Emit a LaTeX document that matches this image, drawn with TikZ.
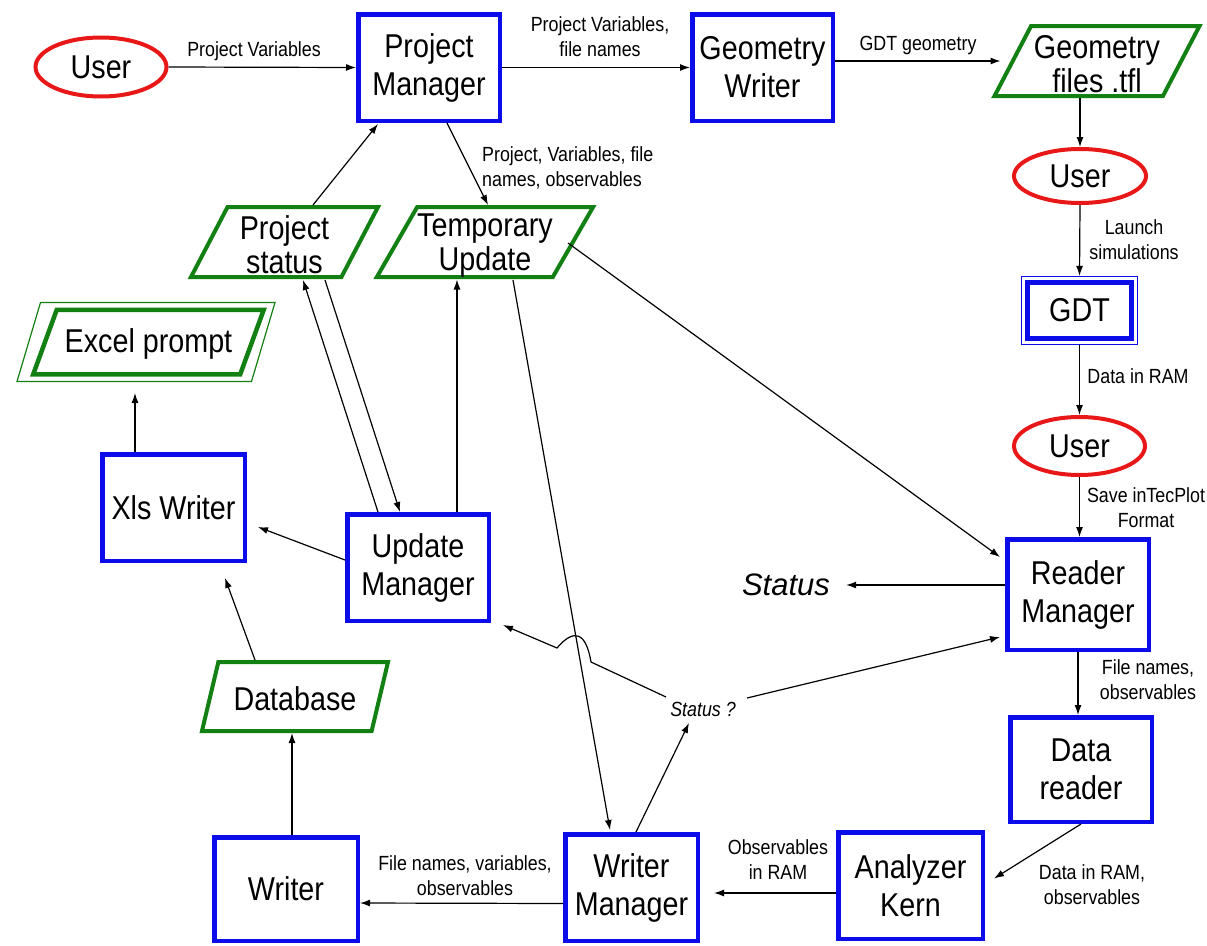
\documentclass[tikz,border=0pt]{standalone}
\usepackage{fontspec}
\setmainfont{Liberation Sans}
\newfontfamily\tallsans[FakeStretch=0.87]{Liberation Sans}
\usetikzlibrary{shapes.geometric,arrows.meta,calc}
\definecolor{procblue}{RGB}{12,12,235}
\definecolor{userred}{RGB}{232,24,24}
\definecolor{filegreen}{RGB}{18,128,18}
\newcommand{\boxfont}{\tallsans\fontsize{33}{38}\selectfont}
\newcommand{\storefont}{\tallsans\fontsize{33}{34}\selectfont}
\newcommand{\lblfont}{\tallsans\fontsize{20.5}{25}\selectfont}
\tikzset{
  proc/.style={draw=procblue, line width=4.5pt, inner sep=0pt, align=center, font=\boxfont},
  user/.style={ellipse, draw=userred, line width=4pt, inner sep=0pt, font=\boxfont},
  store/.style={trapezium, trapezium left angle=60, trapezium right angle=120,
    trapezium stretches body, draw=filegreen, line width=4pt, inner sep=0pt,
    align=center, text height=63pt, font=\storefont},
  lbl/.style={inner sep=0pt, align=center, font=\lblfont},
  flow/.style={-{Latex[length=10pt,width=7pt]}, line width=1.2pt}
}
\begin{document}
\begin{tikzpicture}[x=1pt,y=-1pt]
  \fill[white] (0,0) rectangle (1207,945);
  \useasboundingbox (0,0) rectangle (1207,945);

  \node[user, minimum width=131pt, minimum height=59pt] (user1) at (101,67) {User};
  \node[proc, minimum width=141.5pt, minimum height=106.5pt] (pm) at (429,67.5) {Project\\Manager};
  \node[proc, minimum width=140.5pt, minimum height=106.5pt] (gw) at (762.5,67.5) {Geometry\\Writer};
  \node[store, minimum width=205pt, minimum height=70pt] (geof) at (1097,61) {Geometry\\files .tfl};
  \node[user, minimum width=132pt, minimum height=54pt] (user2) at (1080,176) {User};
  \node[draw=procblue, line width=1.2pt, minimum width=116pt, minimum height=68pt] (gdtframe) at (1079.5,310.5) {};
  \node[proc, minimum width=104pt, minimum height=56pt] (gdt) at (1079.5,310.5) {GDT};
  \node[user, minimum width=131pt, minimum height=58pt] (user3) at (1079.5,446) {User};
  \node[proc, minimum width=141.5pt, minimum height=110.5pt] (rm) at (1078,594.5) {Reader\\Manager};
  \node[proc, minimum width=141.5pt, minimum height=104.5pt] (dr) at (1081,769.5) {Data\\reader};
  \node[proc, minimum width=144.5pt, minimum height=106.5pt] (ak) at (910.5,885.5) {Analyzer\\Kern};
  \node[proc, minimum width=132.5pt, minimum height=106.5pt] (wm) at (631.5,887.5) {Writer\\Manager};
  \node[proc, minimum width=143.5pt, minimum height=103.5pt] (writer) at (286,889) {Writer};
  \node[store, text height=28pt, minimum width=186pt, minimum height=69pt] (db) at (295,696.5) {Database};
  \node[proc, minimum width=142.5pt, minimum height=106.5pt] (xls) at (173.5,507.5) {Xls Writer};
  \node[store, text height=28pt, line width=1.2pt, trapezium left angle=56, trapezium right angle=124,
    minimum width=258pt, minimum height=79pt] (excelframe) at (146,342) {\phantom{Excel prompt}};
  \node[store, text height=28pt, line width=4.5pt, trapezium left angle=56, trapezium right angle=124,
    minimum width=230.5pt, minimum height=64.5pt] (excel) at (148.5,342) {Excel prompt};
  \node[proc, minimum width=141.5pt, minimum height=106.5pt] (umgr) at (418,567.5) {Update\\Manager};
  \node[store, minimum width=187pt, minimum height=70pt] (pstat) at (284.5,242) {Project\\status};
  \node[store, minimum width=210pt, minimum height=70pt] (tmp) at (485,242) {Temporary\\Update};
  \node[inner sep=0pt, font=\fontsize{31}{36}\selectfont\itshape] (status) at (786,585) {Status};
  \node[inner sep=0pt, font=\lblfont\itshape] (statq) at (703,709) {Status ?};

  \node[lbl] (lblpv) at (254,51) {Project Variables};
  \node[lbl] (lblpvf) at (600,37) {Project Variables,\\file names};
  \node[lbl] (lblgeo) at (918,45) {GDT geometry};
  \node[lbl] (lbllaunch) at (1134,240) {Launch\\simulations};
  \node[lbl] (lblram) at (1138,376) {Data in RAM};
  \node[lbl] (lblsave) at (1146,508) {Save inTecPlot\\Format};
  \node[lbl] (lblfno) at (1148,680) {File names,\\observables};
  \node[lbl] (lblramobs) at (1092,885) {Data in RAM,\\observables};
  \node[lbl] (lblobsram) at (778,860) {Observables\\in RAM};
  \node[lbl] (lblfnv) at (465,876) {File names, variables,\\observables};
  \node[lbl, anchor=west, align=left] (lblpvfo) at (482,168) {Project, Variables, file\\names, observables};

  \begin{scope}[flow]
    \draw (user1.east) -- (pm.west);
    \draw (pm.east) -- (gw.west);
    \draw[shorten >=10pt] (gw.east |- geof.west) -- (geof.west);
    \draw (geof.south -| user2.north) -- (user2.north);
    \draw (user2.south) -- (gdtframe.north);
    \draw (gdtframe.south) -- (user3.north);
    \draw (user3.south) -- (user3.south |- rm.north);
    \draw[shorten >=16pt] (rm.west |- status.east) -- (status.east);
    \draw (rm.south) -- (rm.south |- dr.north);
    \draw (dr.south) -- ($(ak.east)+(9,-7)$);
    \draw[shorten >=14pt] ($(ak.west)+(0,7.5)$) -- ($(wm.east)+(0,5.5)$);
    \draw ($(wm.west)+(0,16)$) -- ($(writer.east)+(0,14)$);
    \draw ($(writer.north)+(6,0)$) -- ($(db.center)+(-3,36.5)$);
    \draw ($(db.center)+(-40,-36.5)$) -- ($(xls.south)+(51.5,15)$);
    \draw ($(xls.north)+(-38.5,0)$) -- ($(excelframe.center)+(-11,51)$);
    \draw ($(umgr.west)+(0,-7.5)$) -- ($(xls.east)+(11,19.5)$);
    \draw ($(umgr.north)+(39,0)$) -- ($(tmp.center)+(-28,37.5)$);
    \draw ($(umgr.north)+(-40,0)$) -- ($(pstat.center)+(18.5,38)$);
    \draw ($(pstat.center)+(40.5,38)$) -- ($(umgr.north)+(-18,0)$);
    \draw ($(pstat.center)+(28.5,-37)$) -- ($(pm.south)+(-51,1)$);
    \draw ($(pm.south)+(18,0)$) -- ($(tmp.center)+(3,-37)$);
    \draw ($(tmp.center)+(83,1)$) -- ($(rm.west)+(-5,-37.5)$);
    \draw ($(tmp.center)+(28,38)$) -- ($(wm.north)+(-21.5,-2)$);
    \draw ($(wm.north)+(4.5,0)$) -- ($(statq.center)+(-14,14)$);
    \draw ($(statq.center)+(44,-11)$) -- ($(rm.west)+(-5,42.5)$);
    \draw ($(statq.center)+(-37,-12)$) -- (591,662)
      .. controls (586,632) and (574,628) .. (557,648)
      -- ($(umgr.south east)+(12,2)$);
  \end{scope}
\end{tikzpicture}
\end{document}
